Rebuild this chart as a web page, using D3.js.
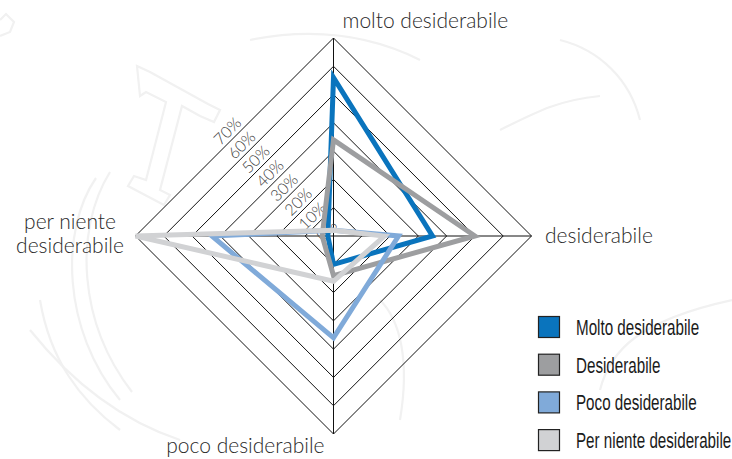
<!DOCTYPE html>
<html>
<head>
<meta charset="utf-8">
<script src="https://cdn.jsdelivr.net/npm/d3@7"></script>
<style>
  html, body { margin: 0; padding: 0; background: #fff; }
  svg { display: block; }
</style>
</head>
<body>
<svg id="chart" width="732" height="459"></svg>
<script>
// Radar axes (clockwise from the top)
const categories = ["molto desiderabile", "desiderabile", "poco desiderabile", "per niente desiderabile"];
const seriesNames = ["Molto desiderabile", "Desiderabile", "Poco desiderabile", "Per niente desiderabile"];
// Percent values per series, in the order of the axes above
const molto      = [56, 35, 10, 2];
const desid      = [34, 50, 14, 4];
const poco       = [2, 23, 36, 43];
const perNiente  = [2, 18, 16, 70];
const tickValues = [0, 10, 20, 30, 40, 50, 60, 70];
const seriesColors = ["#0a74bd", "#9d9ea0", "#80aad9", "#d1d2d4"];

const svg = d3.select("#chart");
const cx = 333.5, cy = 236, R = 198;
const r = d3.scaleLinear().domain([0, 70]).range([0, R]);
const angle = d3.scaleBand().domain(categories).range([0, 2 * Math.PI]).align(0).paddingInner(0);
const ang = c => angle(c) - Math.PI / 2;
const pt = (c, v) => [cx + r(v) * Math.cos(ang(c)), cy + r(v) * Math.sin(ang(c))];

// faint decorative outlines in the background
const deco = svg.append("g").attr("fill", "none").attr("stroke", "#f1f1f1").attr("stroke-width", 2.2);
deco.append("path").attr("d", "M0,20 L6,14 L14,22 L10,32 L0,36");
deco.append("path").attr("d", "M137,66 L150,72 L208,104 L220,110 L214,122 L200,116 L182,106 L160,190 L170,195 L164,205 L128,186 L134,176 L146,180 L166,102 L146,92 L140,96 Z");
deco.append("path").attr("d", "M96,178 C60,230 62,330 120,400");
deco.append("path").attr("d", "M110,172 C74,230 78,322 132,392");
deco.append("path").attr("d", "M30,330 C70,380 120,420 180,440");
deco.append("path").attr("d", "M40,300 C50,360 80,400 120,430");
deco.append("path").attr("d", "M500,130 C540,110 560,100 600,96");
deco.append("path").attr("d", "M560,40 C600,50 630,80 640,120");
deco.append("path").attr("d", "M600,390 C610,350 640,320 732,300");
deco.append("path").attr("d", "M380,300 C400,320 410,360 400,420");
deco.append("path").attr("d", "M250,40 C300,30 360,30 420,60");

// grid rings (straight-edged diamonds)
const grid = svg.append("g").attr("fill", "none").attr("stroke", "#111").attr("stroke-width", 1);
tickValues.filter(t => t > 0).forEach(t => {
  grid.append("path")
    .attr("d", d3.line()(categories.map(c => pt(c, t))) + "Z");
});
// spokes
categories.forEach(c => {
  const p = pt(c, 70);
  grid.append("line").attr("x1", cx).attr("y1", cy).attr("x2", p[0]).attr("y2", p[1]);
});

// tick labels along the upper-left diagonal
const tickG = svg.append("g")
  .attr("font-family", "Lato, 'Open Sans', sans-serif")
  .attr("font-size", 16).attr("font-weight", 300).attr("fill", "#444");
tickValues.forEach(t => {
  const d = r(t) / 2;
  const x = cx - d - 7, y = cy - d - 6;
  tickG.append("text")
    .attr("transform", `translate(${x},${y}) rotate(-45)`)
    .attr("text-anchor", "middle").attr("dy", "0.35em")
    .text(t + "%");
});

// series polygons
const all = [molto, desid, poco, perNiente];
const lineGen = d3.lineRadial().angle((d, i) => angle(categories[i])).radius(d => r(d)).curve(d3.curveLinearClosed);
const series = svg.append("g").attr("transform", `translate(${cx},${cy})`);
all.forEach((vals, i) => {
  series.append("path")
    .attr("d", lineGen(vals))
    .attr("fill", "none")
    .attr("stroke", seriesColors[i])
    .attr("stroke-width", 5)
    .attr("stroke-linejoin", "miter");
});

// axis labels
const lab = svg.append("g")
  .attr("font-family", "Lato, 'Open Sans', sans-serif")
  .attr("font-size", 21).attr("font-weight", 300).attr("fill", "#2a2a2a");
lab.append("text").attr("x", cx + 9).attr("y", 28).text(categories[0]);
lab.append("text").attr("x", 545).attr("y", cy).attr("dy", "0.35em").text(categories[1]);
lab.append("text").attr("x", cx - 9).attr("y", 453).attr("text-anchor", "end").text(categories[2]);
const pn = lab.append("text").attr("y", 229).attr("text-anchor", "middle");
pn.append("tspan").attr("x", 70).attr("dy", 0).text("per niente");
pn.append("tspan").attr("x", 70).attr("dy", 24).text("desiderabile");

// legend
const leg = svg.append("g").attr("transform", "translate(538,316)");
seriesNames.forEach((n, i) => {
  const g = leg.append("g").attr("transform", `translate(0,${i * 37.7})`);
  g.append("rect").attr("x", 0.5).attr("y", 0.5).attr("width", 21).attr("height", 21)
    .attr("fill", seriesColors[i]).attr("stroke", "#222").attr("stroke-width", 1.2);
  g.append("text").attr("transform", "translate(38,11) scale(0.69,1)").attr("dy", "0.36em")
    .attr("font-family", "'Liberation Sans', Arial, sans-serif")
    .attr("font-size", 22).attr("fill", "#1a1a1a").text(n);
});
</script>
</body>
</html>
